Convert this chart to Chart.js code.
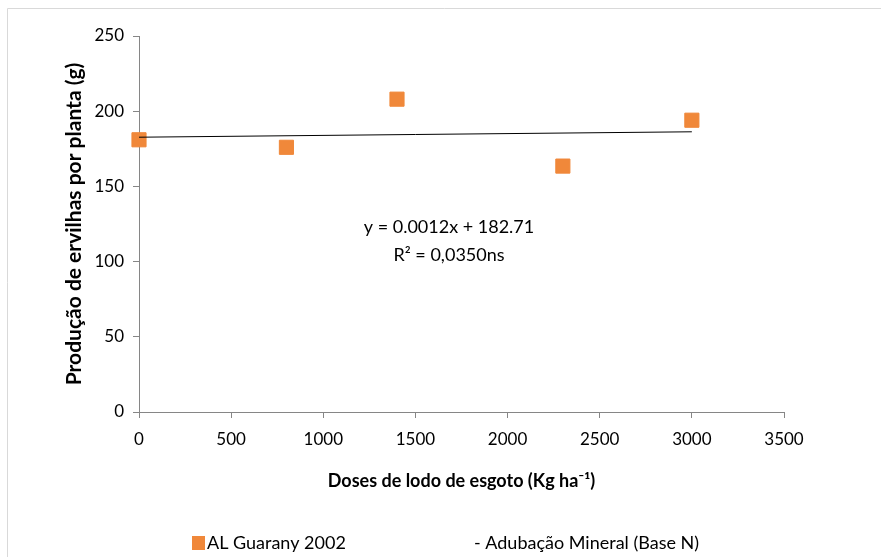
<!DOCTYPE html>
<html>
<head>
<meta charset="utf-8">
<script src="https://cdn.jsdelivr.net/npm/chart.js@4.4.0/dist/chart.umd.min.js"></script>
<style>
  html, body { margin: 0; padding: 0; background: #fff; }
  #wrap { width: 881px; height: 557px; position: relative; }
</style>
</head>
<body>
<div id="wrap"><canvas id="myChart" width="881" height="557"></canvas></div>
<script>
let doses = [0, 800, 1400, 2300, 3000];
let producao = [181, 176, 208, 163.5, 194];
let slope = 0.0012;
let intercept = 182.71;
let trendX = [0, 3000];
let eqLabels = ['y = 0.0012x + 182.71', 'R² = 0,0350ns'];
let legendLabels = ['AL Guarany 2002', '- Adubação Mineral (Base N)'];

let orange = '#F0883A';
let fam = "Lato, 'Open Sans', sans-serif";

let pts = doses.map((d, i) => ({x: d, y: producao[i]}));
let trend = trendX.map(x => ({x: x, y: slope * x + intercept}));

// frame, equation text and legend
let extras = {
  id: 'extras',
  beforeDraw(chart) {
    let c = chart.ctx;
    c.save();
    c.strokeStyle = '#d9d9d9';
    c.lineWidth = 1;
    c.beginPath();
    c.moveTo(881, 8.5); c.lineTo(7.5, 8.5); c.lineTo(7.5, 557);
    c.stroke();
    c.restore();
  },
  afterDraw(chart) {
    let c = chart.ctx;
    c.save();
    c.fillStyle = '#000';
    c.font = '18px ' + fam;
    c.textAlign = 'center';
    c.textBaseline = 'middle';
    c.fillText(eqLabels[0], 449, 227);
    c.fillText(eqLabels[1], 449, 255);
    // legend
    c.textAlign = 'left';
    c.fillStyle = orange;
    c.fillRect(192, 536, 13, 14);
    c.fillStyle = '#000';
    c.fillText(legendLabels[0], 207, 543);
    c.fillText(legendLabels[1], 474, 543);
    c.restore();
  }
};

let chart = new Chart(document.getElementById('myChart').getContext('2d'), {
  type: 'scatter',
  data: {
    datasets: [{
      label: legendLabels[0],
      data: pts,
      pointStyle: 'rect',
      pointRadius: 10,
      pointHoverRadius: 10,
      backgroundColor: orange,
      borderColor: orange,
      borderWidth: 1,
      clip: false,
      order: 2
    }, {
      label: legendLabels[1],
      type: 'line',
      data: trend,
      borderColor: '#000',
      borderWidth: 1,
      pointRadius: 0,
      fill: false,
      order: 1
    }]
  },
  options: {
    responsive: false,
    animation: false,
    layout: { padding: { left: 58, top: 36, right: 97, bottom: 65 } },
    plugins: {
      legend: { display: false },
      tooltip: { enabled: false }
    },
    scales: {
      x: {
        type: 'linear',
        min: 0, max: 3500,
        ticks: { stepSize: 500, color: '#000', font: { family: fam, size: 17 }, padding: 11,
                 callback: v => String(v) },
        grid: { display: true, drawOnChartArea: false, drawTicks: true, tickLength: 6, color: '#868686' },
        border: { color: '#868686' },
        title: { display: true, text: 'Doses de lodo de esgoto (Kg ha⁻¹)', color: '#000',
                 font: { family: fam, size: 18, weight: 'bold' }, padding: 0 },
        afterFit(s) { s.height = 492 - 412; }
      },
      y: {
        min: 0, max: 250,
        ticks: { stepSize: 50, color: '#000', font: { family: fam, size: 17 }, padding: 9 },
        grid: { display: true, drawOnChartArea: false, drawTicks: true, tickLength: 6, color: '#868686' },
        border: { color: '#868686' },
        title: { display: true, text: 'Produção de ervilhas por planta (g)', color: '#000',
                 font: { family: fam, size: 21, weight: 'bold' }, padding: { top: 4, bottom: 0 } },
        afterFit(s) { s.width = 139 - 58; }
      }
    }
  },
  plugins: [extras]
});
</script>
</body>
</html>
